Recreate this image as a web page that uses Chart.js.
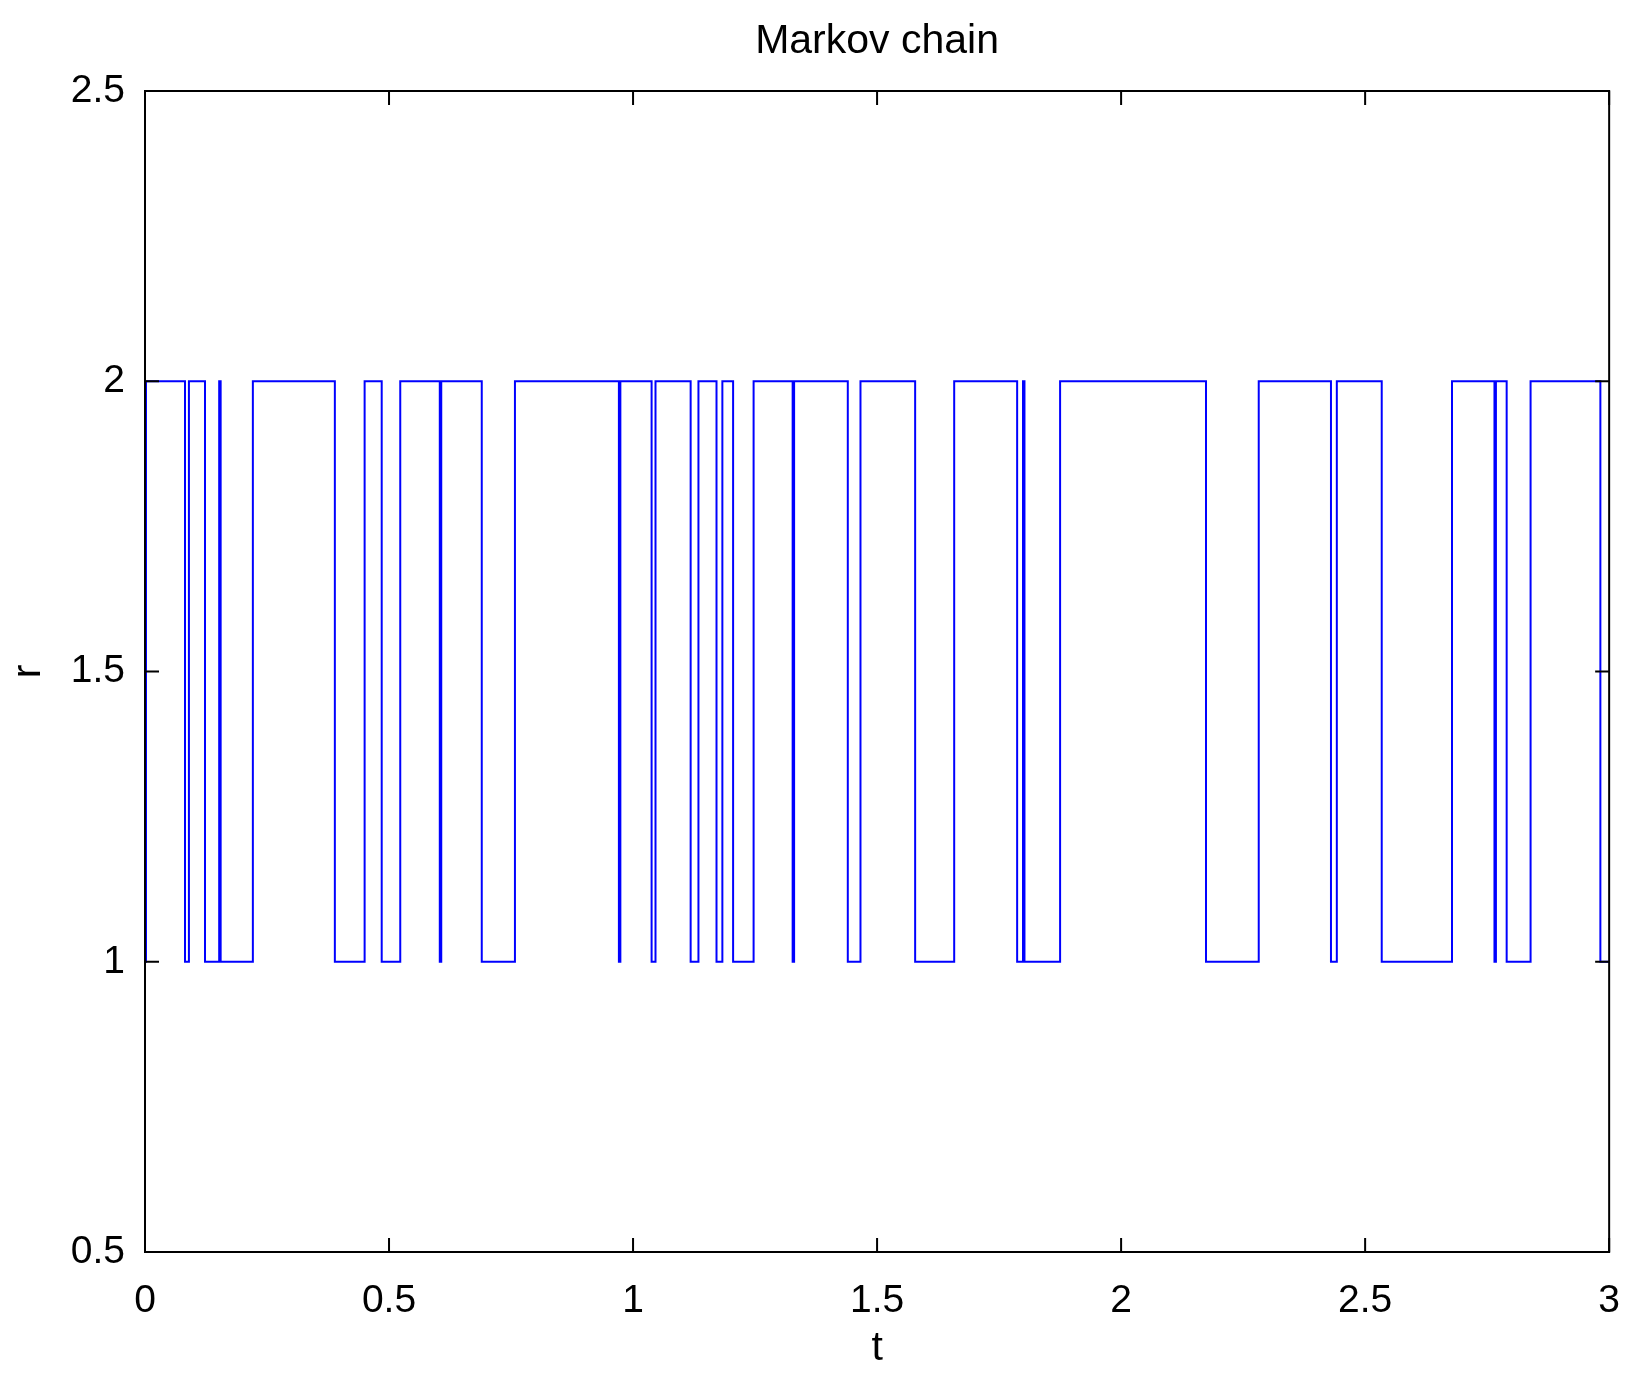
<!DOCTYPE html>
<html lang="en">
<head>
<meta charset="UTF-8" />
<title>Markov chain</title>
<script src="https://cdn.jsdelivr.net/npm/chart.js"></script>
<style>
  html, body { margin: 0; padding: 0; background: #fff; }
  #wrap { width: 1638px; height: 1377px; }
</style>
</head>
<body>
<div id="wrap"><canvas id="chain"></canvas></div>
<script>
// switch times of the chain and the state entered at each time
const times = [0, 0.002, 0.082, 0.090, 0.123, 0.152, 0.155, 0.221, 0.389, 0.450, 0.485, 0.523,
  0.604, 0.607, 0.690, 0.758, 0.971, 0.974, 1.038, 1.046, 1.118, 1.134, 1.171, 1.183, 1.205, 1.247,
  1.327, 1.330, 1.440, 1.466, 1.578, 1.658, 1.787, 1.799, 1.802, 1.875, 2.174, 2.282, 2.430, 2.442,
  2.534, 2.678, 2.765, 2.768, 2.790, 2.839, 2.982, 3];
const states = [1, 2, 1, 2, 1, 2, 1, 2, 1, 2, 1, 2,
  1, 2, 1, 2, 1, 2, 1, 2, 1, 2, 1, 2, 1, 2,
  1, 2, 1, 2, 1, 2, 1, 2, 1, 2, 1, 2, 1, 2,
  1, 2, 1, 2, 1, 2, 1, 1];
const xTicks = [0, 0.5, 1, 1.5, 2, 2.5, 3];
const yTicks = [0.5, 1, 1.5, 2, 2.5];

const FONT = 'Liberation Sans, Arial, sans-serif';

// matlab style box with inward ticks, plus the title
const boxPlugin = {
  id: 'box',
  afterDraw(chart) {
    const { ctx, chartArea: a, scales } = chart;
    ctx.save();
    ctx.strokeStyle = '#000';
    ctx.lineWidth = 2;
    ctx.strokeRect(a.left, a.top, a.right - a.left, a.bottom - a.top);
    const len = 14;
    ctx.beginPath();
    xTicks.forEach(v => {
      const x = scales.x.getPixelForValue(v);
      ctx.moveTo(x, a.bottom); ctx.lineTo(x, a.bottom - len);
      ctx.moveTo(x, a.top); ctx.lineTo(x, a.top + len);
    });
    yTicks.forEach(v => {
      const y = scales.y.getPixelForValue(v);
      ctx.moveTo(a.left, y); ctx.lineTo(a.left + len, y);
      ctx.moveTo(a.right, y); ctx.lineTo(a.right - len, y);
    });
    ctx.stroke();
    ctx.fillStyle = '#000';
    ctx.font = '41px ' + FONT;
    ctx.textAlign = 'center';
    ctx.textBaseline = 'middle';
    ctx.fillText('Markov chain', (a.left + a.right) / 2, 42);
    ctx.restore();
  }
};

const fmt = v => String(v);

new Chart(document.getElementById('chain'), {
  type: 'line',
  data: {
    datasets: [{
      data: times.map((t, i) => ({ x: t, y: states[i] })),
      stepped: true,
      borderColor: '#0000ff',
      borderWidth: 2,
      pointRadius: 0,
      fill: false
    }]
  },
  options: {
    responsive: true,
    maintainAspectRatio: false,
    animation: false,
    layout: { padding: { top: 91, right: 5, left: 0, bottom: 0 } },
    plugins: { legend: { display: false }, tooltip: { enabled: false }, title: { display: false } },
    scales: {
      x: {
        type: 'linear', min: 0, max: 3,
        afterBuildTicks: s => { s.ticks = xTicks.map(v => ({ value: v })); },
        afterFit: s => { s.height = 125; },
        grid: { display: false }, border: { display: false },
        ticks: { color: '#000', font: { size: 39, family: FONT }, padding: 18, maxRotation: 0, callback: fmt },
        title: { display: true, text: 't', color: '#000', font: { size: 41, family: FONT }, padding: { top: 0 } }
      },
      y: {
        type: 'linear', min: 0.5, max: 2.5,
        afterBuildTicks: s => { s.ticks = yTicks.map(v => ({ value: v })); },
        afterFit: s => { s.width = 145; },
        grid: { display: false }, border: { display: false },
        ticks: { color: '#000', font: { size: 39, family: FONT }, padding: 12, callback: fmt },
        title: { display: true, text: 'r', color: '#000', font: { size: 41, family: FONT }, padding: { bottom: 0 } }
      }
    }
  },
  plugins: [boxPlugin]
});
</script>
</body>
</html>
